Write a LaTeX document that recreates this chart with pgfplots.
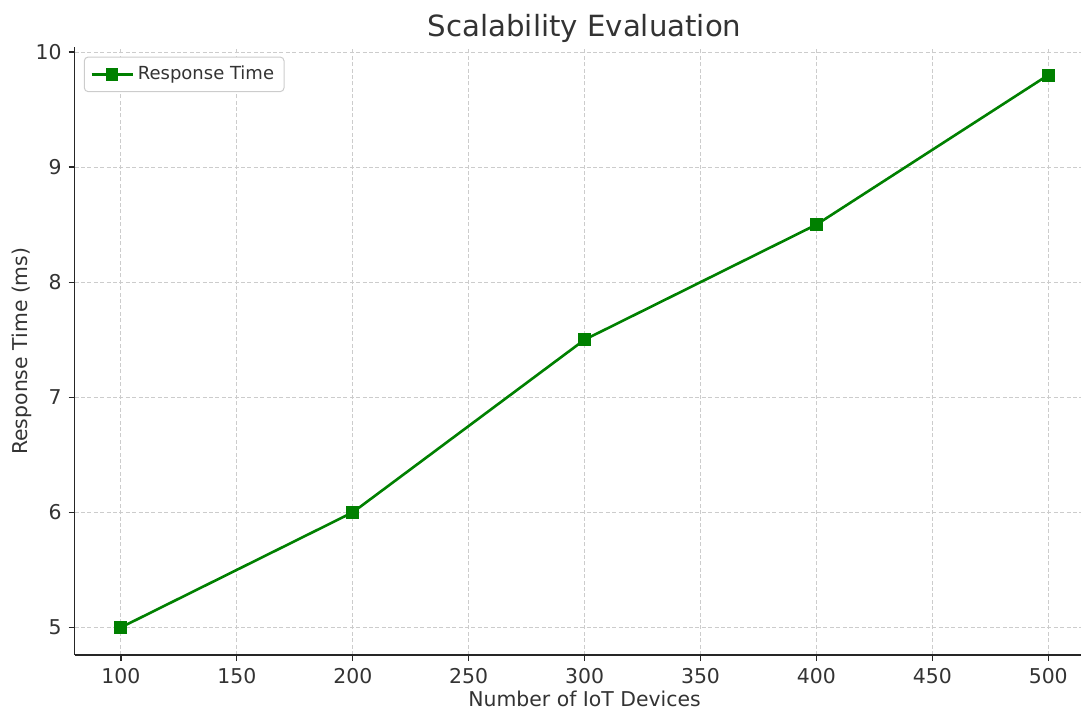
\documentclass[border=0pt]{standalone}
\usepackage{fontspec}
\setmainfont{DejaVu Sans}
\usepackage{pgfplots}
\pgfplotsset{compat=1.18}
\definecolor{txt}{HTML}{333333}
\definecolor{gridc}{HTML}{CCCCCC}
\definecolor{linec}{HTML}{008000}
\begin{document}
\begin{tikzpicture}
\begin{axis}[
  at={(0,0)}, anchor=south west,
  scale only axis,
  width=510pt, height=303.8pt,
  xmin=80, xmax=520, ymin=4.76, ymax=10.04,
  axis lines*=left,
  axis line style={color=black!85, line width=0.8pt},
  xtick={100,150,...,500}, ytick={5,6,7,8,9,10},
  tick align=outside, major tick length=3pt,
  tick style={color=black!85, line width=0.6pt},
  grid=major,
  major grid style={dash pattern=on 2pt off 1.2pt, color=gridc, line width=0.5pt},
  every tick label/.append style={font=\fontsize{10.2}{12}\selectfont, text=txt},
  /pgf/number format/assume math mode=true,
  /pgf/number format/1000 sep={},
  xlabel={Number of IoT Devices},
  ylabel={Response Time (ms)},
  label style={font=\fontsize{10.2}{12}\selectfont, text=txt},
  xlabel style={yshift=3pt},
  ylabel style={yshift=-5pt},
  title={Scalability Evaluation},
  title style={font=\fontsize{14.6}{18}\selectfont, text=txt, yshift=-7pt},
  legend style={font=\fontsize{9}{11}\selectfont, text=txt, draw=gridc, rounded corners=2pt, line width=0.5pt, at={(0.009,0.985)}, anchor=north west, inner xsep=3pt, inner ysep=2.5pt},
  legend cell align=left,
  legend image code/.code={\draw[mark repeat=2,mark phase=2,mark size=2.5pt,#1] plot coordinates {(0cm,0cm) (0.36cm,0cm) (0.72cm,0cm)};},
  clip=false,
]
\addplot[color=linec, line width=1.3pt, mark=square*, mark size=2.6pt, mark options={solid, fill=linec}]
  coordinates {(100,5.0) (200,6.0) (300,7.5) (400,8.5) (500,9.8)};
\addlegendentry{Response Time}
\end{axis}
\pgfresetboundingbox
\useasboundingbox (-37.3pt,-27pt) rectangle (503.2pt,327.5pt);
\end{tikzpicture}
\end{document}
